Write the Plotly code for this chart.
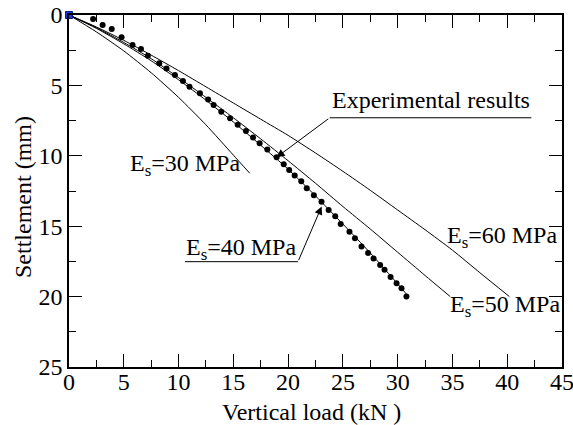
import plotly.graph_objects as go

# Experimental results (load kN, settlement mm)
exp_load = [0, 2.2, 3.07, 3.9, 4.8, 5.8, 6.57, 7.2, 8.24, 8.9, 9.67, 10.4, 11.0, 11.95, 12.7,
            13.2, 13.9, 14.7, 15.4, 16.15, 16.8, 17.4, 18.1, 18.95, 19.6, 20.1, 20.6, 21.2,
            21.7, 22.35, 23.05, 23.7, 24.3, 24.8, 25.6, 26.1, 26.7, 27.3, 27.8, 28.4, 28.8,
            29.35, 29.9, 30.35, 30.8]
exp_settle = [0, 0.28, 0.71, 1.0, 1.58, 2.13, 2.41, 2.9, 3.43, 3.8, 4.26, 4.69, 5.1, 5.56, 6.0,
              6.4, 6.87, 7.34, 7.8, 8.24, 8.7, 9.1, 9.55, 10.1, 10.6, 11.0, 11.4, 11.8,
              12.3, 12.8, 13.26, 13.85, 14.3, 14.85, 15.4, 15.86, 16.45, 16.9, 17.3, 17.76, 18.1,
              18.6, 19.05, 19.4, 20.0]

# Simulated curves
es30_load = [0, 2.5, 5, 7.5, 10, 12.5, 15, 16.5]
es30_settle = [0, 1.2, 2.55, 4.1, 5.85, 7.8, 9.95, 11.24]

es40_load = [0, 2.5, 5, 7.5, 10, 12.5, 15, 17.5, 20, 22.5, 25, 27.5, 30, 31.0]
es40_settle = [0, 0.95, 2.05, 3.25, 4.6, 6.05, 7.6, 9.25, 10.95, 12.85, 14.85, 16.9, 19.1, 20.0]

es50_load = [0, 2.5, 5, 7.5, 10, 12.5, 15, 17.5, 20, 22.5, 25, 27.5, 30, 32.5, 34.8]
es50_settle = [0, 0.9, 1.95, 3.1, 4.45, 5.85, 7.3, 8.8, 10.35, 11.95, 13.6, 15.2, 16.85, 18.5, 20.0]

es60_load = [0, 2.5, 5, 7.5, 10, 12.5, 15, 17.5, 20, 22.5, 25, 27.5, 30, 32.5, 35, 37.5, 40.2]
es60_settle = [0, 0.85, 1.8, 2.85, 3.95, 5.1, 6.25, 7.4, 8.55, 9.8, 11.1, 12.45, 13.85, 15.25,
               16.7, 18.3, 20.0]

x_title = "Vertical load (kN )"
y_title = "Settlement (mm)"

FONT = "Liberation Serif, Times New Roman, serif"

fig = go.Figure()
line_style = dict(color="black", width=1, shape="spline", smoothing=0.6)
for xs, ys in [(es30_load, es30_settle), (es40_load, es40_settle),
               (es50_load, es50_settle), (es60_load, es60_settle)]:
    fig.add_trace(go.Scatter(x=xs, y=ys, mode="lines", line=line_style,
                             showlegend=False, hoverinfo="skip"))

fig.add_trace(go.Scatter(x=exp_load[1:], y=exp_settle[1:], mode="markers",
                         marker=dict(color="black", size=6, symbol="circle"),
                         showlegend=False))
fig.add_trace(go.Scatter(x=exp_load[:1], y=exp_settle[:1], mode="markers",
                         marker=dict(color="#1a3cd8", size=7, symbol="square",
                                     line=dict(color="#0a1a80", width=1)),
                         cliponaxis=False, showlegend=False))

tf = dict(family=FONT, size=24, color="black")
ann = []
ann.append(dict(x=10.6, y=10.65, xref="x", yref="y", text="E<sub>s</sub>=30 MPa",
                showarrow=False, font=tf))
ann.append(dict(x=15.7, y=16.65, xref="x", yref="y", text="E<sub>s</sub>=40 MPa",
                showarrow=False, font=tf))
ann.append(dict(x=39.5, y=15.8, xref="x", yref="y", text="E<sub>s</sub>=60 MPa",
                showarrow=False, font=tf))
ann.append(dict(x=39.8, y=20.7, xref="x", yref="y", text="E<sub>s</sub>=50 MPa",
                showarrow=False, font=tf))
ann.append(dict(x=33.0, y=6.05, xref="x", yref="y", text="Experimental results",
                showarrow=False, font=tf))
# axis titles
ann.append(dict(x=0.491, y=-0.128, xref="paper", yref="paper", text=x_title,
                showarrow=False, font=tf, xanchor="center", yanchor="middle"))
ann.append(dict(x=-0.0933, y=0.483, xref="paper", yref="paper", text=y_title,
                showarrow=False, font=tf, textangle=-90, xanchor="center", yanchor="middle"))
# leader arrows
ann.append(dict(x=18.95, y=10.1, ax=23.8, ay=7.3, xref="x", yref="y", axref="x", ayref="y",
                text="", showarrow=True, arrowhead=2, arrowsize=1.6, arrowwidth=1,
                arrowcolor="black"))
ann.append(dict(x=23.06, y=13.6, ax=20.9, ay=17.52, xref="x", yref="y", axref="x", ayref="y",
                text="", showarrow=True, arrowhead=2, arrowsize=1.6, arrowwidth=1,
                arrowcolor="black"))

shapes = [
    dict(type="line", xref="x", yref="y", x0=23.8, x1=42.2, y0=7.3, y1=7.3,
         line=dict(color="black", width=1)),
    dict(type="line", xref="x", yref="y", x0=10.58, x1=20.9, y0=17.52, y1=17.52,
         line=dict(color="black", width=1)),
]

axis_common = dict(showgrid=False, zeroline=False, showline=True, linecolor="black",
                   linewidth=1.5, mirror="allticks", ticks="inside", ticklen=13,
                   tickwidth=1, tickcolor="black", tickfont=tf, automargin=False,
                   ticklabeloverflow="allow")

fig.update_layout(
    width=573, height=425,
    margin=dict(l=69, r=11, t=15, b=58, autoexpand=False),
    paper_bgcolor="white", plot_bgcolor="white",
    xaxis=dict(range=[0, 45], dtick=5, tick0=0, ticklabelstandoff=-8,
               minor=dict(dtick=2.5, ticks="inside", ticklen=7, tickcolor="black", tickwidth=1),
               **axis_common),
    yaxis=dict(range=[25, 0], dtick=5, tick0=0,
               minor=dict(dtick=2.5, ticks="inside", ticklen=7, tickcolor="black", tickwidth=1),
               **axis_common),
    annotations=ann, shapes=shapes,
)

fig.write_html("out.html")
